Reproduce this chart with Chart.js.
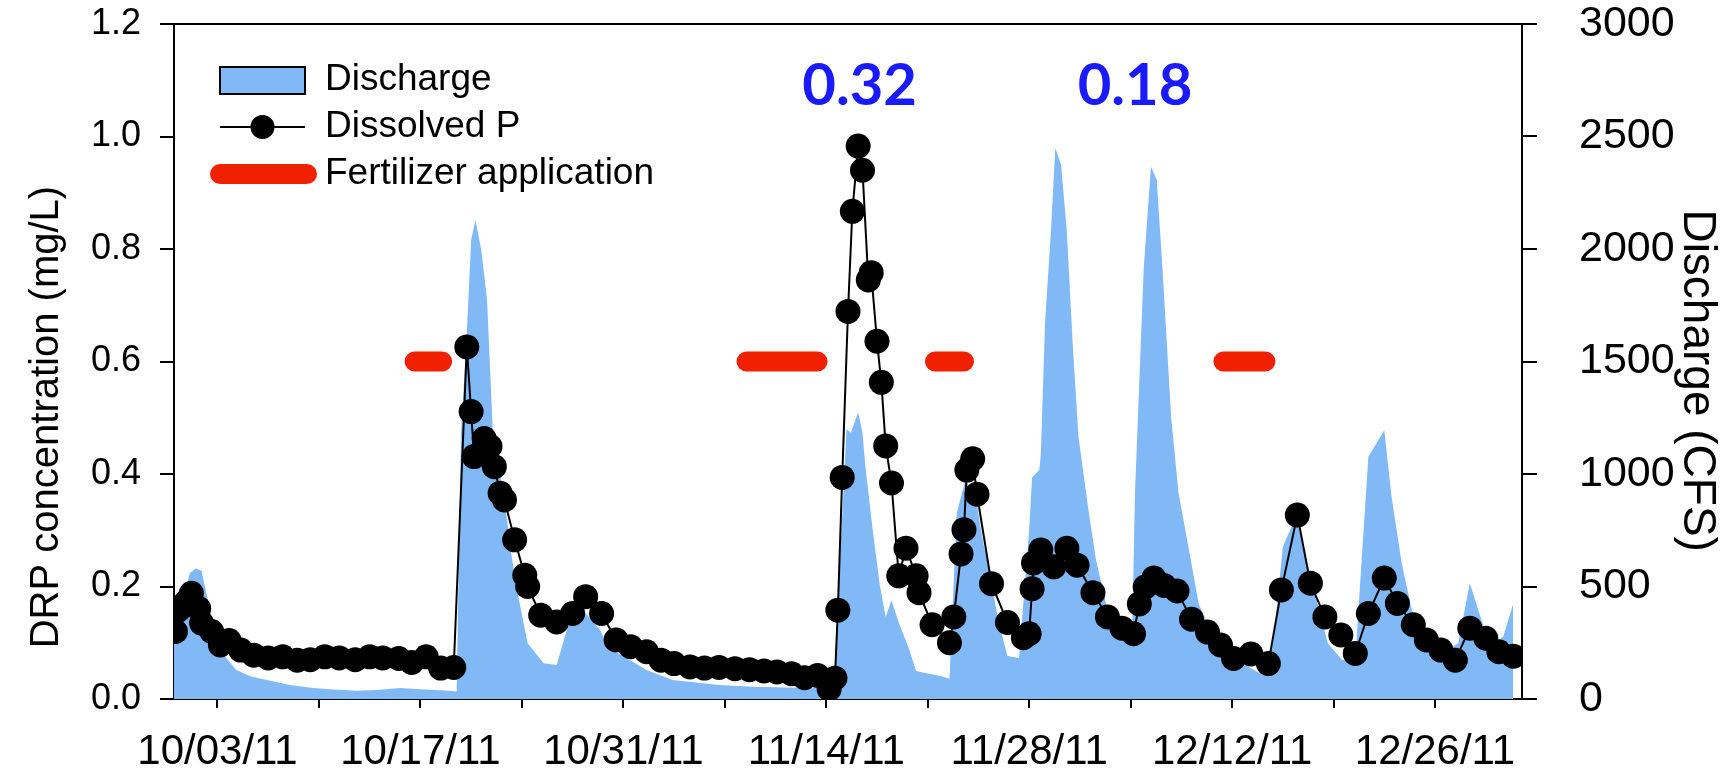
<!DOCTYPE html>
<html>
<head>
<meta charset="utf-8">
<script src="https://cdn.jsdelivr.net/npm/chart.js@4.4.1/dist/chart.umd.min.js"></script>
<style>
  html, body { margin: 0; padding: 0; background: #fff; }
  #wrap { width: 1729px; height: 771px; }
</style>
</head>
<body>
<div id="wrap"><canvas id="myChart" width="1729" height="771"></canvas></div>
<script>
// day 0 = 09/30/11
const majorTickLabels = ['10/03/11','10/17/11','10/31/11','11/14/11','11/28/11','12/12/11','12/26/11'];

const drpDays = [0.1,0.3,0.8,1.2,1.7,1.9,2.6,3.2,3.8,4.6,5.5,6.5,7.5,8.5,9.4,10.4,11.4,12.5,13.5,14.4,15.5,16.4,17.4,18.4,19.3,
  20.2,20.5,20.7,21.4,21.8,22.1,22.5,22.8,23.5,24.2,24.4,25.3,26.4,27.5,28.4,29.5,30.5,31.5,32.6,33.6,34.5,35.6,36.6,
  37.6,38.7,39.7,40.7,41.6,42.6,43.5,44.4,45.2,45.6,45.8,46.1,46.5,46.8,47.2,47.5,47.9,48.1,48.5,48.8,49.1,49.5,
  50.0,50.5,51.2,51.4,52.3,53.5,53.8,54.3,54.5,54.7,55.1,55.4,56.4,57.5,58.6,59.0,59.2,59.3,59.8,60.7,61.6,62.3,
  63.4,64.4,65.4,66.2,66.6,67.0,67.6,68.3,69.2,70.2,71.3,72.2,73.1,74.3,75.5,76.4,77.5,78.4,79.4,80.5,81.5,82.4,
  83.5,84.4,85.5,86.4,87.4,88.4,89.4,90.5,91.4,92.4];
const drpValues = [0.12,0.158,0.172,0.188,0.161,0.135,0.12,0.096,0.104,0.087,0.078,0.073,0.075,0.069,0.07,0.075,0.073,0.07,0.075,0.073,0.072,0.065,0.075,0.055,0.056,
  0.626,0.511,0.431,0.463,0.449,0.413,0.366,0.354,0.283,0.22,0.2,0.149,0.137,0.152,0.182,0.152,0.105,0.093,0.084,0.069,0.063,0.057,0.055,
  0.056,0.054,0.052,0.05,0.048,0.045,0.038,0.042,0.018,0.037,0.158,0.394,0.689,0.867,0.983,0.94,0.745,0.758,0.636,0.563,0.45,0.384,
  0.219,0.268,0.219,0.189,0.132,0.1,0.146,0.258,0.301,0.407,0.427,0.364,0.205,0.136,0.109,0.116,0.196,0.242,0.265,0.235,0.268,0.238,
  0.189,0.146,0.126,0.116,0.169,0.199,0.215,0.202,0.192,0.142,0.119,0.096,0.072,0.08,0.063,0.194,0.327,0.206,0.146,0.114,0.081,0.152,
  0.215,0.17,0.132,0.105,0.087,0.069,0.126,0.108,0.084,0.076];

const qDays = [0,0.5,1.1,1.5,1.9,2.4,2.9,3.5,4.3,5.3,6.4,8.0,9.6,11.0,12.6,14.0,15.6,17.0,19.0,19.5,
  19.8,20.2,20.5,20.8,21.2,21.6,22.0,22.8,23.3,23.8,24.4,25.5,26.4,27.1,27.8,28.4,29.4,30.0,31.2,32.6,34.4,37.6,40.0,43.0,45.5,
  45.8,46.4,46.7,47.2,47.5,47.7,48.2,48.7,49.1,49.5,50.0,50.7,51.2,53.0,53.5,54.0,54.6,55.3,55.8,56.2,56.9,57.5,58.3,
  59.0,59.2,59.7,59.8,60.1,60.5,60.8,61.2,61.6,62.0,62.4,63.1,63.6,64.3,65.4,66.1,66.3,66.6,66.9,67.4,67.8,68.2,68.8,69.3,70.0,70.7,71.6,
  73.0,74.2,75.3,75.9,76.5,77.4,77.8,78.7,79.6,80.6,81.5,81.7,82.4,83.5,84.0,84.7,85.4,86.3,87.5,88.6,89.4,90.2,90.9,91.7,92.4];
const qValues = [330,420,560,580,570,420,277,190,129,100,84,62,49,42,37,40,49,43,37,33,
  1181,1625,2040,2129,1995,1773,1181,884,632,440,248,159,151,307,388,381,307,226,182,129,84,62,55,50,50,
  422,1200,1183,1275,1183,1035,753,505,364,439,340,224,124,100,90,826,973,900,704,587,340,191,182,
  753,985,1018,1084,1680,2077,2449,2375,2077,1580,1167,835,622,422,258,273,918,1415,1911,2366,2308,1911,1249,918,671,422,290,
  207,140,100,292,677,810,707,470,248,173,173,381,1077,1195,899,603,396,262,203,248,514,351,232,277,425];

const fertStart = [16.6, 39.5, 52.5, 72.4];
const fertEnd = [18.5, 44.4, 54.5, 75.3];

const noteTexts = ['0.32', '0.18'];
const noteDays = [47.3, 66.3];
const noteLevel = 1.09;

const FONT = "'Liberation Sans', Arial, sans-serif";
const BLUE = '#80b9f6';
const RED = '#f02000';

const drpPoints = drpDays.map((d, i) => ({x: d, y: drpValues[i]}));
const qPoints = qDays.map((d, i) => ({x: d, y: qValues[i]}));

const datasets = [
  {
    label: 'Dissolved P',
    data: drpPoints,
    yAxisID: 'y',
    borderColor: '#000',
    borderWidth: 2,
    backgroundColor: '#000',
    pointRadius: 12.5,
    pointBorderWidth: 0,
    pointBackgroundColor: '#000',
    tension: 0,
    order: 0,
  },
];
fertStart.forEach((s, i) => {
  datasets.push({
    label: 'Fertilizer application',
    data: [{x: s, y: 0.6}, {x: fertEnd[i], y: 0.6}],
    yAxisID: 'y',
    borderColor: RED,
    borderWidth: 20,
    borderCapStyle: 'round',
    pointRadius: 0,
    order: 1,
  });
});
datasets.push({
  label: 'Discharge',
  data: qPoints,
  yAxisID: 'y2',
  borderWidth: 0,
  borderColor: BLUE,
  backgroundColor: BLUE,
  fill: 'origin',
  pointRadius: 0,
  tension: 0,
  order: 2,
});

const xTicks = [];
for (let i = 0; i <= 12; i++) xTicks.push(3 + 7 * i);

function noVerticalPadding(scale) {
  scale.paddingTop = 0;
  scale.paddingBottom = 0;
}

const framePlugin = {
  id: 'frame',
  afterDatasetsDraw(chart) {
    const {ctx, chartArea: a} = chart;
    ctx.save();
    ctx.strokeStyle = '#000';
    ctx.lineWidth = 2;
    ctx.beginPath();
    ctx.moveTo(a.left - 14, a.top);
    ctx.lineTo(a.right + 15, a.top);
    ctx.stroke();
    ctx.restore();
  }
};

const legendPlugin = {
  id: 'boxLegend',
  afterDraw(chart) {
    const {ctx, chartArea: a} = chart;
    const x0 = a.left + 46, x1 = a.left + 131;
    const rows = [a.top + 56, a.top + 103, a.top + 150];
    ctx.save();
    // Discharge
    ctx.fillStyle = BLUE;
    ctx.fillRect(x0, rows[0] - 13, x1 - x0, 27);
    ctx.strokeStyle = '#000';
    ctx.lineWidth = 2;
    ctx.strokeRect(x0, rows[0] - 13, x1 - x0, 27);
    // Dissolved P
    ctx.beginPath();
    ctx.moveTo(x0, rows[1]);
    ctx.lineTo(x1, rows[1]);
    ctx.stroke();
    ctx.fillStyle = '#000';
    ctx.beginPath();
    ctx.arc((x0 + x1) / 2, rows[1], 12, 0, Math.PI * 2);
    ctx.fill();
    // Fertilizer
    ctx.strokeStyle = RED;
    ctx.lineWidth = 20;
    ctx.lineCap = 'round';
    ctx.beginPath();
    ctx.moveTo(x0, rows[2]);
    ctx.lineTo(x1 + 2, rows[2]);
    ctx.stroke();
    ctx.fillStyle = '#000';
    ctx.font = '37px ' + FONT;
    ctx.textBaseline = 'middle';
    ctx.textAlign = 'left';
    ['Discharge', 'Dissolved P', 'Fertilizer application'].forEach((t, i) => {
      ctx.fillText(t, a.left + 151, rows[i]);
    });
    ctx.restore();
  }
};

const notesPlugin = {
  id: 'notes',
  afterDraw(chart) {
    const {ctx, scales} = chart;
    ctx.save();
    ctx.fillStyle = '#1a1aff';
    ctx.font = "bold 58px Lato, 'Open Sans', sans-serif";
    ctx.textAlign = 'center';
    ctx.textBaseline = 'middle';
    noteTexts.forEach((t, i) => {
      ctx.fillText(t, scales.x.getPixelForValue(noteDays[i]), scales.y.getPixelForValue(noteLevel));
    });
    ctx.restore();
  }
};

const config = {
  type: 'line',
  data: { datasets: datasets },
  options: {
    responsive: false,
    animation: false,
    layout: { padding: { top: 24, left: 0, right: 0, bottom: 0 } },
    plugins: {
      legend: { display: false },
      tooltip: { enabled: false },
    },
    scales: {
      x: {
        type: 'linear',
        min: 0,
        max: 93,
        afterBuildTicks: (scale) => { scale.ticks = xTicks.map(v => ({value: v})); },
        afterFit: (scale) => { scale.height = 72; scale.paddingLeft = 0; scale.paddingRight = 0; },
        grid: { drawOnChartArea: false, drawTicks: true, tickLength: 9, color: '#000', lineWidth: 2 },
        border: { display: true, color: '#000', width: 2 },
        ticks: {
          autoSkip: false,
          maxRotation: 0,
          padding: 19,
          color: '#000',
          font: { family: FONT, size: 42 },
          callback: (v, i) => (i % 2 === 0 ? majorTickLabels[i / 2] : ''),
        },
      },
      y: {
        position: 'left',
        min: 0,
        max: 1.2,
        afterFit: (scale) => { scale.width = 174; noVerticalPadding(scale); },
        grid: { drawOnChartArea: false, drawTicks: true, tickLength: 14, color: '#000', lineWidth: 2 },
        border: { display: true, color: '#000', width: 2 },
        ticks: {
          stepSize: 0.2,
          padding: 19,
          color: '#000',
          font: { family: FONT, size: 36 },
          callback: (v) => v.toFixed(1),
        },
        title: {
          display: true,
          text: 'DRP concentration (mg/L)          ',
          color: '#000',
          font: { family: FONT, size: 40 },
          padding: { top: 23, bottom: 0 },
        },
      },
      y2: {
        position: 'right',
        min: 0,
        max: 3000,
        afterFit: (scale) => { scale.width = 207; noVerticalPadding(scale); },
        grid: { drawOnChartArea: false, drawTicks: true, tickLength: 15, color: '#000', lineWidth: 2 },
        border: { display: true, color: '#000', width: 2 },
        ticks: {
          stepSize: 500,
          padding: 42,
          color: '#000',
          font: { family: FONT, size: 43 },
          callback: (v) => String(v),
        },
        title: {
          display: true,
          text: '   Discharge (CFS)',
          color: '#000',
          font: { family: FONT, size: 46 },
          padding: { top: 5, bottom: 0 },
        },
      },
    },
  },
  plugins: [framePlugin, legendPlugin, notesPlugin],
};

const myChart = new Chart(document.getElementById('myChart'), config);
</script>
</body>
</html>
